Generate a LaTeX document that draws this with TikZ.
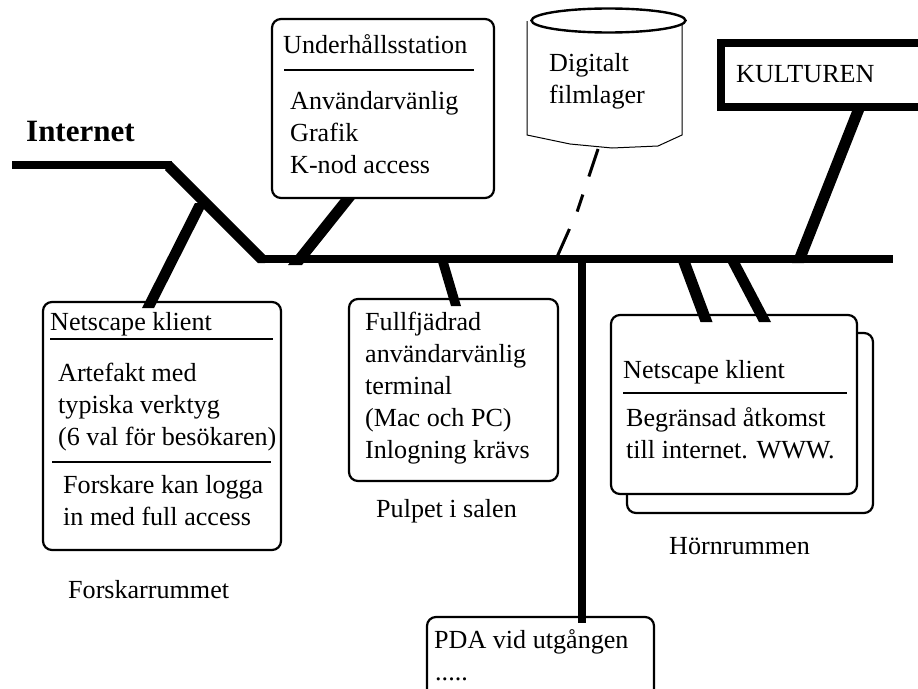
\documentclass[tikz,border=0pt]{standalone}
\usepackage{fontspec}
\setmainfont{Liberation Serif}
\tikzset{
 card/.style={draw,line width=2.2pt,rounded corners=9pt,fill=white,inner sep=0pt},
 txt/.style={anchor=base west,inner sep=0pt,font=\fontsize{26.1}{30}\selectfont},
 rule/.style={line width=2.4pt},
 wire/.style={line width=8pt},
 thin line/.style={line width=1pt}
}
\newcommand{\tapline}[3]{\fill ([xshift=-#3pt]#1) -- ([xshift=#3pt]#1) -- ([xshift=#3pt]#2) -- ([xshift=-#3pt]#2) -- cycle;}
\begin{document}
\begin{tikzpicture}[x=1pt,y=-1pt]
\useasboundingbox (0,0) rectangle (918,688);
\clip (0,0) rectangle (918,688);
% connector anchors
\coordinate (inA) at (12,165);
\coordinate (inB) at (172,165);
\coordinate (busL) at (262,259);
\coordinate (busR) at (893,259);
\coordinate (busK) at (798,263);
\coordinate (busF) at (557,257);
\coordinate (busV) at (582,259);
\coordinate (diagT) at (201,203);
\coordinate (forT) at (148,308);
\coordinate (uT) at (348.5,198);
\coordinate (uB) at (295,265);
\coordinate (pT) at (443,262);
\coordinate (pB) at (456,306);
\coordinate (h1T) at (684.5,263);
\coordinate (h1B) at (706.5,322);
\coordinate (h2T) at (734,263);
\coordinate (h2B) at (765,322);
\coordinate (kT) at (858,111);
\coordinate (fT) at (598,149);
\coordinate (fM) at (577,212);
\coordinate (pdaT) at (582,623);
\coordinate (d1) at (165,170);
\coordinate (d2) at (172,162);
\coordinate (d3) at (265,255);
\coordinate (d4) at (265,263);
\coordinate (d5) at (258,263);
% wires
\draw[wire] (inA) -- (inB);
\fill (d1) -- (d2) -- (d3) -- (d4) -- (d5) -- cycle;
\draw[wire] (busL) -- (busR);
\draw[line width=3pt,dash pattern=on 29pt off 19pt on 18pt off 19pt on 40pt] (fT) -- (fM) -- (busF);
% Underhallsstation
\node[card,minimum width=222pt,minimum height=179pt] (ubox) at (383,108.5) {};
\node[txt] (u1) at (283,53) {Underhållsstation};
\draw[rule] (284,70) -- (474,70);
\node[txt] (u2) at (290,109) {Användarvänlig};
\node[txt] (u3) at (290,141) {Grafik};
\node[txt] (u4) at (290,173) {K-nod access};
% cylinder
\draw[thin line,fill=white] (527,21) -- (527,135) -- (570,144) -- (612,148) -- (658,146) -- (682,135) -- (682,21);
\draw[line width=2.4pt,fill=white] (608.5,20.5) ellipse [x radius=77pt,y radius=12pt];
\node[txt] (t1) at (549,71) {Digitalt};
\node[txt] (t2) at (549,103) {filmlager};
% KULTUREN
\node[draw,line width=8pt,fill=white,minimum width=260pt,minimum height=64pt,inner sep=0pt] (kbox) at (851,75) {};
\node[txt] (k1) at (736,82) {KULTUREN};
% Internet
\node[txt,font=\fontsize{31}{34}\selectfont\bfseries] (inet) at (26,141) {Internet};
% Forskar
\node[card,minimum width=238pt,minimum height=248pt] (fbox) at (162,426) {};
\node[txt] (f1) at (50,330) {Netscape klient};
\draw[rule] (50,339) -- (273,339);
\node[txt] (f2) at (58,381) {Artefakt med};
\node[txt] (f3) at (58,413) {typiska verktyg};
\node[txt] (f4) at (58,445) {(6 val för besökaren)};
\draw[rule] (52,462) -- (271,462);
\node[txt] (f5) at (63,493) {Forskare kan logga};
\node[txt] (f6) at (63,525) {in med full access};
\node[txt] (f7) at (68,598) {Forskarrummet};
% Pulpet
\node[card,minimum width=209pt,minimum height=182pt] (pbox) at (453.5,390) {};
\node[txt] (p1) at (365,330) {Fullfjädrad};
\node[txt] (p2) at (365,362) {användarvänlig};
\node[txt] (p3) at (365,394) {terminal};
\node[txt] (p4) at (365,426) {(Mac och PC)};
\node[txt] (p5) at (365,458) {Inlogning krävs};
\node[txt] (p6) at (376,517) {Pulpet i salen};
% Hornrummen
\node[card,minimum width=246pt,minimum height=180pt] (hback) at (750,423) {};
\node[card,minimum width=246pt,minimum height=179pt] (hbox) at (734,404.5) {};
\node[txt] (h1) at (623,378) {Netscape klient};
\draw[rule] (623,393) -- (847,393);
\node[txt] (h2) at (626,426) {Begränsad åtkomst};
\node[txt] (h3) at (626,458) {till internet. WWW.};
\node[txt] (h4) at (669,554) {Hörnrummen};
% PDA
\node[card,minimum width=227pt,minimum height=100pt] (pda) at (540.5,667) {};
\node[txt] (a1) at (434,648) {PDA vid utgången};
\node[txt] (a2) at (435,680) {.....};
% taps over the cards
\draw[wire] (busV) -- (pdaT);
\tapline{diagT}{forT}{6}
\tapline{uT}{uB}{7}
\tapline{pT}{pB}{5}
\tapline{h1T}{h1B}{6}
\tapline{h2T}{h2B}{6}
\tapline{kT}{busK}{6}
\end{tikzpicture}
\end{document}
